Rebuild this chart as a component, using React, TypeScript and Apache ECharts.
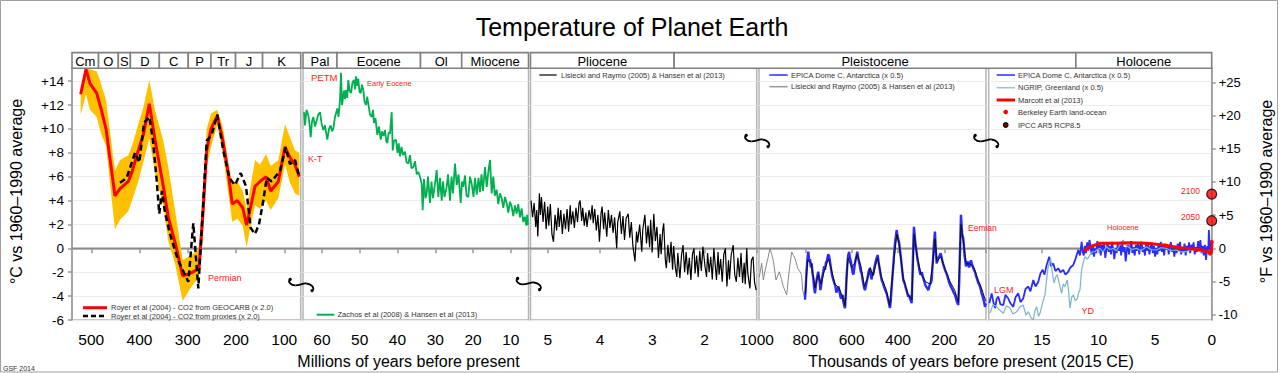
import React, { useEffect, useRef } from "react";
import * as echarts from "echarts";

const FONT = "'Liberation Sans', Arial, Helvetica, sans-serif";

// ---------- tick values ----------
const ticksC = [-6, -4, -2, 0, 2, 4, 6, 8, 10, 12, 14];
const ticksF = [-10, -5, 0, 5, 10, 15, 20, 25];
const ticksPaleo = [100, 200, 300, 400, 500];
const ticksCeno = [10, 20, 30, 40, 50, 60];
const ticksPlio = [1, 2, 3, 4, 5];
const ticksPleisto = [20, 200, 400, 600, 800];
const ticksHolo = [0, 5, 10, 15];

// ---------- geologic periods: [label, axisFrom, from, axisTo, to] ----------
const periods: [string, number, number, number, number][] = [
  ["Cm", 0, 540, 0, 485], ["O", 0, 485, 0, 444], ["S", 0, 444, 0, 419],
  ["D", 0, 419, 0, 359], ["C", 0, 359, 0, 299], ["P", 0, 299, 0, 252],
  ["Tr", 0, 252, 0, 201], ["J", 0, 201, 0, 145], ["K", 0, 145, 0, 66],
  ["Pal", 1, 65, 1, 56], ["Eocene", 1, 56, 1, 33.9], ["Ol", 1, 33.9, 1, 23],
  ["Miocene", 1, 23, 1, 5.33], ["Pliocene", 2, 5.33, 2, 2.58],
  ["Pleistocene", 2, 2.58, 4, 12], ["Holocene", 4, 12, 4, 0],
];

// ---------- Panel 1: Royer et al (2004), [Ma, °C] ----------
const royerGeocarb: [number, number][] = [
  [522, 12.9], [511, 15.0], [502.7, 13.8], [488.8, 13.0], [479.9, 11.7], [469.5, 10.0],
  [451, 4.4], [440.5, 5.0], [423.3, 5.6], [415.6, 6.4], [402.6, 8.2], [392.2, 9.5],
  [379.8, 12.1], [368, 9.1], [350.8, 5.2], [340.4, 2.6], [326.5, 0.5], [310.6, -2.3],
  [295.5, -2.1], [281, -1.8], [276.8, -1.7], [268.5, 3.0], [260.8, 8.2], [251.9, 10.0],
  [238.9, 11.1], [227.7, 9.1], [216.1, 6.3], [207.8, 3.7], [197.4, 4.0], [186.2, 3.4],
  [178, 1.95], [169.6, 3.5], [160.7, 5.2], [150.4, 5.6], [137.9, 6.0], [128.2, 4.8],
  [112.4, 5.6], [98.5, 8.5], [88.2, 7.6], [77.8, 7.0], [68.9, 6.0],
];
const royerProxies: [number, number][] = [
  [440.5, 5.5], [426.6, 5.9], [409.4, 8.0], [400.5, 7.2], [390.8, 10.5], [379.8, 11.0],
  [372.1, 9.0], [364.5, 5.7], [359.1, 2.9], [353.5, 4.8], [347.3, 3.0], [336.9, 1.2],
  [320.3, -1.0], [298.9, -2.8], [288.6, 2.1], [278.2, -3.35], [270.6, 2.0], [260.8, 9.0],
  [250.5, 9.5], [238.9, 11.2], [226.5, 8.2], [214, 5.9], [202.2, 5.3], [190.4, 6.3],
  [179.4, 5.2], [169.6, 1.7], [160.7, 1.2], [152.4, 2.0], [143.5, 4.0], [136.4, 5.9],
  [126.1, 5.6], [108.9, 6.5], [97.1, 8.45], [88.2, 7.05], [77.8, 7.4], [68.9, 6.0],
];
// [Ma, lower, upper]
const royerBand: [number, number, number][] = [
  [522, 11.2, 13.5], [511, 12.9, 15.1], [502.7, 11.6, 15.0], [488.8, 11.0, 14.8],
  [479.9, 9.6, 13.8], [469.5, 8.6, 12.4], [451, 1.6, 6.5], [440.5, 2.4, 7.4],
  [423.3, 3.1, 7.8], [415.6, 4.0, 8.6], [402.6, 5.6, 10.4], [392.2, 7.2, 11.8],
  [379.8, 9.2, 14.1], [368, 6.3, 11.6], [350.8, 3.6, 9.0], [340.4, 0.6, 6.8],
  [326.5, -1.3, 3.2], [310.6, -4.4, -1.0], [295.5, -3.4, -0.6], [281, -2.6, -0.2],
  [276.8, -2.3, 0.0], [268.5, 1.0, 5.0], [260.8, 6.8, 10.0], [251.9, 8.5, 11.3],
  [238.9, 10.3, 11.6], [227.7, 8.0, 10.2], [216.1, 4.6, 7.2], [207.8, 2.2, 5.5],
  [197.4, 2.5, 5.6], [186.2, 1.9, 4.8], [178, 0.1, 3.3], [169.6, 1.9, 5.3],
  [160.7, 3.6, 7.4], [150.4, 3.3, 7.0], [137.9, 4.0, 7.9], [128.2, 3.2, 6.9],
  [112.4, 4.2, 7.4], [98.5, 7.0, 10.4], [88.2, 5.5, 9.3], [77.8, 4.6, 8.2], [68.9, 4.4, 8.0],
];

// ---------- Panel 2: Zachos et al (2008) & Hansen et al (2013), [Ma, °C] ----------
const zachos: [number, number][] = [
  [64.74, 11.4], [64.47, 10.3], [64.07, 11.6], [63.6, 11.15], [63.28, 10.4], [62.96, 9.3],
  [62.62, 10.6], [62.27, 11.0], [61.82, 10.2], [61.37, 10.7], [60.95, 11.2], [60.5, 11.4],
  [60.05, 10.4], [59.63, 9.9], [59.18, 10.3], [58.57, 9.1], [58.12, 10.0], [57.68, 10.3],
  [57.33, 9.8], [56.98, 10.0], [56.53, 11.0], [55.92, 11.7], [55.61, 11.0], [55.21, 12.4],
  [54.94, 14.7], [54.68, 12.0], [54.49, 12.4], [54.15, 13.2], [53.89, 12.5], [53.62, 13.25],
  [53.3, 12.6], [53.01, 14.1], [52.69, 13.2], [52.3, 13.0], [51.9, 13.9], [51.5, 14.1],
  [51.24, 13.3], [50.98, 14.4], [50.66, 13.6], [50.37, 14.2], [50.05, 13.1], [49.73, 13.0],
  [49.39, 13.7], [49.04, 13.25], [48.73, 12.3], [48.33, 12.0], [48.01, 12.7], [47.72, 12.1],
  [47.27, 11.2], [46.82, 11.0], [46.48, 11.6], [46.21, 10.5], [45.82, 10.9], [45.34, 9.5],
  [44.89, 10.2], [44.44, 9.1], [44.1, 9.8], [43.7, 9.4], [43.3, 9.9], [42.98, 9.0],
  [42.69, 8.8], [42.32, 9.7], [41.98, 9.6], [41.53, 11.4], [41.26, 8.2], [40.92, 9.0],
  [40.39, 9.1], [39.99, 8.0], [39.67, 8.8], [39.33, 7.7], [38.94, 8.5], [38.54, 7.8],
  [38.01, 8.1], [37.61, 7.2], [37.13, 7.1], [36.69, 7.8], [36.29, 6.7], [35.81, 6.8],
  [35.36, 7.3], [34.91, 6.2], [34.49, 6.4], [34.04, 6.0], [33.59, 5.4], [33.33, 3.2],
  [32.99, 5.8], [32.59, 4.2], [32.27, 4.6], [31.93, 6.0], [31.4, 3.8], [31.0, 5.6],
  [30.6, 4.2], [30.07, 5.4], [29.62, 6.55], [29.2, 4.3], [28.75, 5.9], [28.3, 4.0],
  [27.95, 5.6], [27.56, 4.3], [26.97, 5.15], [26.63, 6.2], [26.1, 4.0], [25.7, 6.0],
  [25.31, 4.6], [24.78, 7.1], [24.33, 5.3], [23.85, 6.2], [23.27, 3.8], [22.92, 5.6],
  [22.58, 5.15], [22.13, 6.1], [21.73, 4.4], [21.26, 4.3], [20.81, 6.0], [20.36, 5.4],
  [19.88, 4.3], [19.49, 5.9], [19.04, 4.5], [18.56, 5.9], [18.16, 4.7], [17.77, 6.2],
  [17.37, 4.8], [16.84, 6.8], [16.39, 5.15], [15.92, 6.5], [15.52, 7.4], [15.07, 4.6],
  [14.65, 6.0], [14.25, 4.4], [13.75, 4.9], [13.33, 3.7], [12.87, 4.6], [12.43, 4.2],
  [12.0, 3.4], [11.55, 4.3], [11.1, 3.8], [10.68, 3.0], [10.23, 3.9], [9.78, 3.5],
  [9.36, 2.7], [8.91, 3.6], [8.46, 2.9], [8.04, 3.7], [7.59, 2.6], [7.14, 3.35],
  [6.72, 2.2], [6.27, 2.65], [5.92, 1.9], [5.66, 2.8], [5.48, 1.95],
];

// ---------- Panel 3: Lisiecki and Raymo (2005), [Ma, °C] ----------
const lisieckiPlio: [number, number][] = [
  [5.32, 4.0], [5.29, 2.6], [5.26, 3.8], [5.23, 1.8], [5.21, 3.2], [5.19, 1.0], [5.16, 4.6],
  [5.14, 2.8], [5.12, 4.3], [5.09, 2.2], [5.06, 3.9], [5.03, 1.6], [5.0, 3.5], [4.98, 1.9],
  [4.95, 3.7], [4.92, 1.2], [4.89, 0.55], [4.86, 2.8], [4.83, 1.5], [4.8, 3.4], [4.78, 1.8],
  [4.75, 3.2], [4.72, 1.2], [4.69, 2.9], [4.66, 1.6], [4.63, 3.3], [4.6, 1.4], [4.57, 3.6],
  [4.55, 2.0], [4.52, 3.1], [4.49, 1.7], [4.46, 3.4], [4.43, 2.2], [4.4, 3.8], [4.38, 4.0],
  [4.35, 2.3], [4.33, 3.4], [4.3, 1.9], [4.27, 3.0], [4.25, 1.8], [4.21, 3.2], [4.18, 2.4],
  [4.15, 3.6], [4.13, 2.1], [4.1, 3.3], [4.07, 1.5], [4.04, 2.8], [4.01, 0.55], [3.98, 2.9],
  [3.96, 3.5], [3.93, 1.6], [3.91, 3.0], [3.87, 0.97], [3.84, 3.2], [3.81, 1.7], [3.78, 2.8],
  [3.75, 1.3], [3.72, 2.6], [3.68, 0.0], [3.66, 2.2], [3.62, 3.1], [3.59, 1.2], [3.56, 2.7],
  [3.53, 0.7], [3.5, 2.5], [3.46, 2.9], [3.43, 0.9], [3.4, 2.2], [3.37, 0.2], [3.33, -1.1],
  [3.3, 1.4], [3.28, 0.5], [3.24, 2.0], [3.2, -0.28], [3.18, 1.6], [3.14, 2.8], [3.11, 0.4],
  [3.08, 1.9], [3.05, 0.1], [3.03, 2.4], [3.0, -0.28], [2.97, 2.9], [2.94, 0.6], [2.91, 1.8],
  [2.88, -0.8], [2.85, 1.2], [2.83, -0.5], [2.8, 1.5], [2.78, 2.1], [2.75, -0.9], [2.73, -1.67],
  [2.7, 0.3], [2.67, -1.2], [2.64, 0.55], [2.61, -1.8], [2.59, 0.2], [2.56, -1.5], [2.53, -2.4],
  [2.51, -0.4], [2.47, -2.5], [2.44, -0.6], [2.41, 0.28], [2.38, -2.0], [2.35, -0.3], [2.32, -2.2],
  [2.29, -0.8], [2.26, -2.65], [2.23, -0.5], [2.2, 0.0], [2.18, -2.1], [2.15, -0.6], [2.12, -2.4],
  [2.09, -0.2], [2.06, -1.9], [2.03, 0.14], [1.99, -1.5], [1.96, -2.4], [1.94, -0.4], [1.91, -2.0],
  [1.88, -0.7], [1.85, -2.6], [1.82, 0.0], [1.79, -1.6], [1.77, -2.65], [1.74, -0.3], [1.72, -2.2],
  [1.69, -0.9], [1.66, -2.8], [1.63, -0.5], [1.6, 0.0], [1.57, -3.2], [1.54, -1.0], [1.52, -2.6],
  [1.49, -0.6], [1.45, 0.28], [1.42, -2.2], [1.39, -2.8], [1.36, -0.8], [1.33, -2.4], [1.3, -0.4],
  [1.27, -2.9], [1.24, -1.2], [1.22, -3.0], [1.19, 0.0], [1.17, -2.1], [1.13, -3.35], [1.1, -1.0],
  [1.07, -0.7], [1.04, -2.9], [1.01, -3.5],
];

// ---------- Panel 4: ka, °C ----------
const lisieckiEarly: [number, number][] = [
  [998.7, -2.4], [988.3, -1.25], [981.4, -2.65], [969.8, -1.5], [961.1, -0.8], [952.5, 0.0],
  [945.2, -0.5], [938.3, -1.0], [926.6, -2.65], [912.3, -1.96], [902.8, -2.6], [895.1, -3.2],
  [880.4, -3.9], [870.5, -2.0], [858.8, -0.3], [851.1, -0.6], [844.6, -0.84], [832.9, -1.67],
  [823, -1.96], [816.5, -2.2], [811.3, -3.5], [801.4, -4.3],
];
const epicaLong: [number, number][] = [
  [801.4, -4.3], [798, -3.2], [795.1, -2.0], [791, -0.9], [787.1, -0.28], [783, -1.1],
  [779.8, -0.9], [776, -1.6], [772.5, -1.26], [769, -2.1], [765.6, -2.5], [762, -3.3],
  [758.3, -3.77], [754, -3.0], [750.9, -2.6], [747, -2.2], [744, -1.96], [741, -2.5],
  [738, -2.8], [735, -3.5], [732.3, -3.2], [728, -2.5], [725, -2.2], [722.4, -1.96],
  [719, -1.5], [715.1, -1.8], [711, -1.2], [706.5, -1.0], [701, -0.5], [696.6, -0.7],
  [692, -1.3], [688.3, -1.8], [684, -2.3], [679.3, -2.65], [675, -2.9], [671.1, -3.1],
  [666, -3.7], [662, -3.5], [657, -3.2], [652.5, -3.6], [648, -4.1], [643, -4.2],
  [639, -3.9], [636.2, -4.4], [632, -4.8], [628.9, -5.0], [625, -3.8], [622.4, -2.5],
  [618, -1.2], [614.6, -0.56], [611, -0.3], [607.3, -0.8], [603, -1.1], [599.9, -1.5],
  [596, -2.0], [592.2, -2.2], [588, -1.6], [583.5, -1.0], [579, -0.6], [575.8, -0.28],
  [571, -0.9], [566.3, -1.3], [561, -1.9], [556.8, -2.1], [553, -2.6], [549.9, -2.9],
  [546, -3.3], [542.6, -3.5], [537, -3.0], [531.8, -2.5], [526, -1.9], [521, -1.67],
  [517, -2.3], [513.7, -2.6], [510, -2.0], [506.8, -2.2], [502, -1.6], [497.3, -1.2],
  [492, -0.8], [487.8, -0.56], [484, -1.1], [480, -1.6], [475, -2.2], [470.5, -2.65],
  [465, -2.9], [460.6, -3.2], [455, -3.5], [449, -3.77], [445, -4.1], [441.2, -4.4],
  [438, -4.7], [434.7, -5.0], [431, -4.4], [428.2, -3.5], [424, -2.4], [420.5, -1.5],
  [417, -0.5], [413.1, 0.4], [409, 1.0], [405.8, 1.53], [403, 1.2], [400.2, 0.9],
  [397, 0.6], [394.5, 0.42], [391, -0.2], [387.2, -0.8], [382, -1.8], [377.3, -2.65],
  [372, -2.9], [367.8, -3.2], [362, -3.6], [355.7, -4.05], [352, -3.9], [348.4, -4.2],
  [344, -4.4], [341, -4.6], [338.5, -3.0], [336.3, -1.5], [333.5, 0.5], [331.1, 1.8],
  [328, 1.1], [324.6, 0.4], [322, 0.0], [319, -0.4], [316, -0.9], [312.5, -1.26],
  [308, -1.8], [303, -2.2], [297, -2.0], [290.9, -2.5], [286, -2.8], [281.4, -3.1],
  [275, -3.3], [269.3, -3.5], [265, -3.2], [262, -3.0], [258, -2.9], [254.6, -2.65],
  [252, -1.8], [249, -1.0], [245, 0.3], [240.4, 1.4], [237, 0.0], [233, -1.26],
  [229, -1.0], [225.3, -0.8], [220, -0.6], [215.8, -0.42], [211, -0.8], [206.7, -1.2],
  [202, -1.5], [197.2, -1.8], [193, -2.0], [188.5, -2.2], [183, -2.6], [178.6, -2.9],
  [174, -3.1], [169.1, -3.3], [164, -3.5], [158.3, -3.77], [154, -3.9], [149.7, -4.2],
  [145, -4.5], [139.7, -4.75], [136, -3.0], [133.3, -1.0], [130.5, 1.0], [128.1, 2.8],
  [125.5, 2.0], [122.9, 1.2], [120.5, 1.0], [118.2, 0.84], [115, 0.1], [112.6, -0.6],
  [109, -1.1], [106.5, -1.5], [102, -1.3], [97.9, -1.1], [93, -1.6], [89.3, -1.4],
  [85, -1.0], [80.6, -1.3], [76, -1.6], [72, -1.8], [67, -2.0], [63.4, -2.3],
  [58, -2.6], [53.5, -2.9], [50, -3.0], [46.2, -3.2], [42, -3.5], [38.8, -3.77],
  [35, -4.0], [31.1, -4.3], [28, -4.5], [24.6, -4.9], [22, -4.7], [20.3, -4.6],
];
const lisieckiLate: [number, number][] = [
  [800, -3.8], [790, -1.0], [775, -1.2], [758, -3.3], [744, -2.2], [732, -3.0], [720, -2.0],
  [700, -0.9], [690, -1.6], [672, -3.0], [655, -3.3], [640, -4.0], [628, -4.8], [616, -0.8],
  [600, -1.6], [585, -1.2], [576, -0.5], [560, -1.5], [545, -3.2], [530, -2.4], [520, -1.6],
  [508, -2.3], [488, -0.8], [470, -2.5], [450, -3.5], [436, -4.8], [420, -1.5], [405, 1.2],
  [395, 0.3], [378, -2.4], [356, -3.9], [340, -4.3], [330, 1.2], [318, -0.6], [300, -2.2],
  [280, -2.8], [262, -3.0], [250, -1.3], [240, 0.8], [232, -1.1], [215, -0.7], [195, -1.8],
  [175, -2.8], [155, -3.5], [140, -4.5], [128, 2.0], [118, 0.6], [105, -1.3], [90, -1.3],
  [72, -1.6], [55, -2.6], [40, -3.3], [25, -4.2], [20, -4.4],
];

// ---------- Panel 5: ka, °C ----------
const epicaShort: [number, number][] = [
  [19.65, -4.6], [19.44, -3.77], [19.29, -4.5], [19.14, -5.0], [18.99, -4.2], [18.85, -4.05],
  [18.66, -4.7], [18.41, -4.75], [18.22, -3.9], [17.97, -4.2], [17.78, -4.6], [17.53, -4.9],
  [17.33, -4.1], [17.09, -3.77], [16.89, -4.5], [16.65, -4.2], [16.45, -3.4], [16.2, -3.2],
  [16.01, -3.6], [15.76, -2.65], [15.56, -3.2], [15.32, -2.8], [15.13, -2.1], [14.93, -1.8],
  [14.77, -2.2], [14.58, -1.4], [14.35, -0.7], [14.2, -1.5], [14.0, -1.26], [13.8, -1.9],
  [13.56, -1.67], [13.36, -2.0], [13.12, -1.8], [12.92, -2.2], [12.67, -1.96], [12.48, -1.6],
  [12.23, -1.4], [12.04, -0.9], [11.79, -0.14], [11.64, -0.6], [11.49, 0.55], [11.4, -0.3],
  [11.3, -0.6], [11.2, 0.2], [11.1, -0.4], [11.0, 0.5], [10.9, -0.2], [10.8, 0.7], [10.7, 0.1],
  [10.6, -0.5], [10.5, 0.3], [10.4, -0.7], [10.3, 0.0], [10.2, -0.4], [10.1, 0.6], [10.0, -0.1],
  [9.9, 0.5], [9.8, -0.6], [9.7, 0.3], [9.6, -0.2], [9.5, 0.4], [9.4, -0.8], [9.3, -0.1],
  [9.2, 0.5], [9.1, -0.3], [9.0, 0.2], [8.9, -0.5], [8.8, 0.55], [8.7, -0.1], [8.6, -0.9],
  [8.5, 0.0], [8.4, -0.4], [8.3, 0.4], [8.2, -0.2], [8.1, 0.3], [8.0, -0.6], [7.9, 0.42],
  [7.8, -0.3], [7.7, 0.1], [7.6, -1.1], [7.5, -0.2], [7.4, 0.3], [7.3, -0.5], [7.2, 0.2],
  [7.1, 0.6], [7.0, -0.4], [6.9, 0.1], [6.8, -0.6], [6.7, 0.3], [6.6, -0.2], [6.5, 0.5],
  [6.4, -0.5], [6.3, 0.2], [6.2, 0.55], [6.1, -0.3], [6.0, 0.1], [5.9, -0.6], [5.8, 0.4],
  [5.7, -0.2], [5.6, 0.3], [5.5, -0.5], [5.4, 0.1], [5.3, 0.5], [5.2, -0.4], [5.1, 0.2],
  [5.0, -0.7], [4.9, 0.0], [4.8, -0.5], [4.7, 0.3], [4.6, -0.2], [4.5, 0.55], [4.4, -0.3],
  [4.3, 0.2], [4.2, -0.6], [4.1, 0.4], [4.0, -0.1], [3.9, 0.3], [3.8, -0.5], [3.7, 0.2],
  [3.6, 0.5], [3.5, -0.3], [3.4, 0.1], [3.3, -0.7], [3.2, 0.2], [3.1, -0.4], [3.0, 0.4],
  [2.9, -0.2], [2.8, 0.55], [2.7, -0.5], [2.6, 0.1], [2.5, -0.3], [2.4, 0.4], [2.3, -0.6],
  [2.2, 0.2], [2.1, -0.2], [2.0, 0.5], [1.9, -0.4], [1.8, 0.3], [1.7, -0.1], [1.6, 0.5],
  [1.5, -0.5], [1.4, 0.1], [1.3, -0.3], [1.2, 0.6], [1.1, -0.2], [1.0, 0.7], [0.9, -0.4],
  [0.8, 0.2], [0.7, -0.6], [0.6, 0.3], [0.5, -0.98], [0.4, 0.2], [0.3, -0.3], [0.25, 1.53],
  [0.18, 0.0], [0.13, 0.4],
];
const ngrip: [number, number][] = [
  [19.59, -5.44], [19.32, -4.7], [18.99, -4.9], [18.7, -5.2], [18.41, -5.44], [18.13, -4.8],
  [17.82, -5.0], [17.56, -5.5], [17.23, -5.3], [16.94, -4.9], [16.65, -4.75], [16.41, -5.6],
  [16.2, -5.3], [15.97, -5.8], [15.76, -6.0], [15.61, -5.2], [15.46, -4.9], [15.3, -5.7],
  [15.17, -5.44], [14.95, -4.6], [14.73, -3.9], [14.58, -2.6], [14.44, -1.5], [14.23, -0.84],
  [14.08, -2.0], [13.93, -2.9], [13.78, -2.4], [13.64, -2.2], [13.45, -3.0], [13.26, -3.77],
  [13.12, -3.0], [12.97, -3.2], [12.76, -2.65], [12.64, -3.6], [12.52, -5.0], [12.37, -4.1],
  [12.23, -3.9], [12.05, -4.4], [11.87, -4.2], [11.72, -3.6], [11.64, -3.5], [11.49, -1.8],
  [11.35, -1.2], [11.2, -0.7], [10.98, -0.9], [10.76, -0.56], [10.54, -0.3], [10.32, -0.28],
  [10.1, -0.1], [9.88, 0.0], [9.61, -0.3], [9.29, 0.13], [9.0, -0.1], [8.7, 0.0],
  [8.42, -0.2], [8.11, 0.28], [7.82, 0.7], [7.63, 0.3], [7.38, 0.13], [7.05, -0.1],
  [6.64, 0.0], [6.26, -0.2], [5.76, 0.13], [5.38, -0.1], [4.88, -0.14], [4.5, 0.05],
  [4.0, 0.0], [3.62, -0.2], [3.13, -0.14], [2.75, -0.3], [2.24, -0.28], [1.86, -0.1],
  [1.36, -0.14], [0.98, -0.3], [0.48, -0.28], [0.19, -0.2],
];
const marcott: [number, number][] = [
  [11.29, -0.22], [10.76, 0.13], [9.88, 0.42], [8.7, 0.42], [7.23, 0.47], [5.76, 0.42],
  [4.29, 0.28], [2.82, 0.05], [1.64, -0.06], [0.91, -0.14], [0.47, -0.28], [0.1, -0.3],
];
const berkeley: [number, number][] = [
  [0.16, -0.45], [0.14, -0.3], [0.12, -0.4], [0.1, -0.2], [0.08, -0.35], [0.06, -0.1],
  [0.05, 0.0], [0.04, -0.2], [0.03, 0.2], [0.02, 0.35], [0.01, 0.5], [0.0, 0.55],
];
const ipcc: [number, number][] = [[0, 2.31], [0, 4.54]];

export default function App() {
  const ref = useRef<HTMLDivElement>(null);

  useEffect(() => {
    if (!ref.current) return;
    const chart = echarts.init(ref.current, undefined, { renderer: "svg" });

    const grids = [
      { left: 72, width: 228.7 },
      { left: 303, width: 225.5 },
      { left: 530.5, width: 226.2 },
      { left: 759, width: 227 },
      { left: 988.7, width: 223 },
    ].map((g) => ({
      ...g,
      top: 68,
      height: 252,
      show: true,
      borderColor: "#b4b4b4",
      borderWidth: 1.5,
      backgroundColor: "transparent",
    }));

    const xAxis = (gridIndex: number, min: number, max: number, ticks: number[], fmt?: (v: number) => string) => ({
      type: "value",
      gridIndex,
      min,
      max,
      inverse: true,
      position: "bottom",
      axisLine: { show: true, lineStyle: { color: "#999", width: 1.5 } },
      axisTick: { show: true, length: 5, customValues: ticks, lineStyle: { color: "#999", width: 1.5 } },
      axisLabel: {
        show: true,
        customValues: ticks,
        color: "#000",
        fontSize: 15.5,
        fontFamily: FONT,
        margin: 11,
        formatter: fmt || ((v: number) => String(v)),
      },
      splitLine: { show: false },
    });

    const yGrid = (gridIndex: number) => ({
      type: "value",
      gridIndex,
      min: -6,
      max: 15.1,
      axisLine: { show: false },
      axisTick: { show: false, customValues: ticksC },
      axisLabel: { show: false, customValues: ticksC },
      splitLine: { show: true, lineStyle: { color: "#ececec", width: 1 } },
    });

    const leftAxis = {
      ...yGrid(0),
      axisLine: { show: true, lineStyle: { color: "#999", width: 1.5 } },
      axisTick: { show: true, length: 4, customValues: ticksC, lineStyle: { color: "#999", width: 1.5 } },
      axisLabel: {
        show: true,
        customValues: ticksC,
        color: "#000",
        fontSize: 13.5,
        fontFamily: FONT,
        margin: 8,
        formatter: (v: number) => (v > 0 ? "+" + v : String(v)),
      },
    };
    const rightAxis = {
      type: "value",
      gridIndex: 4,
      position: "right",
      min: -6 * 1.8,
      max: 15.1 * 1.8,
      axisLine: { show: true, lineStyle: { color: "#999", width: 1.5 } },
      axisTick: { show: true, length: 4, customValues: ticksF, lineStyle: { color: "#999", width: 1.5 } },
      axisLabel: {
        show: true,
        customValues: ticksF,
        color: "#000",
        fontSize: 13,
        fontFamily: FONT,
        margin: 7,
        formatter: (v: number) => (v > 0 ? "+" + v : String(v)),
      },
      splitLine: { show: false },
    };

    const line = (xi: number, data: any, color: string, width: number, extra: any = {}) => ({
      type: "line",
      xAxisIndex: xi,
      yAxisIndex: xi,
      data,
      symbol: "none",
      silent: true,
      lineStyle: { color, width, ...(extra.lineStyle || {}) },
    });

    const option: any = {
      animation: false,
      backgroundColor: "#fff",
      textStyle: { fontFamily: FONT },
      grid: grids,
      xAxis: [
        xAxis(0, 66, 540, ticksPaleo),
        xAxis(1, 5.33, 65, ticksCeno),
        xAxis(2, 1, 5.33, ticksPlio, (v: number) => (v === 1 ? "1000" : String(v))),
        xAxis(3, 20, 1000, ticksPleisto),
        xAxis(4, 0, 19.7, ticksHolo),
      ],
      yAxis: [leftAxis, yGrid(1), yGrid(2), yGrid(3), yGrid(4), rightAxis],
      series: [
        {
          type: "custom",
          xAxisIndex: 0,
          yAxisIndex: 0,
          silent: true,
          clip: true,
          data: royerBand,
          encode: { x: 0, y: [1, 2] },
          renderItem: (params: any, api: any) => {
            if (params.dataIndex !== 0) return null;
            const upper = royerBand.map((d) => api.coord([d[0], d[2]]));
            const lower = royerBand.slice().reverse().map((d) => api.coord([d[0], d[1]]));
            return {
              type: "polygon",
              shape: { points: upper.concat(lower) },
              style: { fill: "#ffc000", stroke: "none" },
            };
          },
        },
        line(0, royerGeocarb, "#ff0000", 3),
        line(0, royerProxies, "#000000", 2.5, { lineStyle: { type: [6, 3.5] } }),
        line(1, zachos, "#00b050", 1.8),
        line(2, lisieckiPlio, "#000000", 1.2),
        line(3, lisieckiEarly, "#888888", 1),
        line(3, epicaLong, "#2b2bff", 2.4),
        line(3, lisieckiLate, "#111111", 1),
        line(4, epicaShort, "#2b2bff", 1.8),
        line(4, ngrip, "#7fb2c6", 1.2),
        line(4, marcott, "#ff0000", 3),
        {
          type: "scatter",
          xAxisIndex: 4,
          yAxisIndex: 4,
          data: berkeley,
          symbolSize: 4,
          silent: true,
          clip: false,
          itemStyle: { color: "#ff0000" },
        },
        {
          type: "scatter",
          xAxisIndex: 4,
          yAxisIndex: 4,
          data: ipcc,
          symbolSize: 10,
          silent: true,
          clip: false,
          z: 5,
          itemStyle: { color: "#ff0000", borderColor: "#000", borderWidth: 1.2 },
        },
      ],
    };

    chart.setOption(option);

    const gx = (i: number, v: number) => chart.convertToPixel({ xAxisIndex: i } as any, v) as number;
    const zeroY = chart.convertToPixel({ yAxisIndex: 0 } as any, 0) as number;
    const leftX = gx(0, 540);
    const rightX = gx(4, 0);

    const txt = (x: number, y: number, text: string, size: number, fill: string, align = "left", extra: any = {}) => ({
      type: "text",
      x,
      y,
      z: 20,
      silent: true,
      ...extra,
      style: {
        text,
        fill,
        fontSize: size,
        fontFamily: FONT,
        textAlign: align,
        align,
        textVerticalAlign: "middle",
        verticalAlign: "middle",
      },
    });
    const seg = (x1: number, y1: number, x2: number, y2: number, stroke: string, w: number, dash?: number[]) => ({
      type: "line",
      z: 20,
      silent: true,
      shape: { x1, y1, x2, y2 },
      style: { stroke, lineWidth: w, lineDash: dash },
    });
    const curve = (x1: number, y1: number, c1x: number, c1y: number, c2x: number, c2y: number, x2: number, y2: number) => ({
      type: "bezierCurve",
      z: 25,
      silent: true,
      shape: { x1, y1, x2, y2, cpx1: c1x, cpy1: c1y, cpx2: c2x, cpy2: c2y },
      style: { stroke: "#000", lineWidth: 1.8, fill: "none" },
    });

    const els: any[] = [];
    // outer frame
    els.push({ type: "rect", z: 0, silent: true, shape: { x: 0.5, y: 0.5, width: 1277, height: 371.5 }, style: { fill: "none", stroke: "#a0a0a0", lineWidth: 1 } });
    // title
    els.push(txt(632, 27, "Temperature of Planet Earth", 25, "#000", "center"));
    // zero line
    els.push({ ...seg(leftX, zeroY, rightX, zeroY, "#8c8c8c", 1.5), z: 1 });

    // period bar
    periods.forEach(([name, a0, v0, a1, v1]) => {
      const x0 = gx(a0, v0);
      const x1 = gx(a1, v1);
      els.push({
        type: "rect",
        z: 15,
        silent: true,
        shape: { x: x0, y: 52.6, width: x1 - x0, height: 15.6 },
        style: { fill: "#fff", stroke: "#808080", lineWidth: 1.6 },
      });
      els.push(txt((x0 + x1) / 2, 61, name, 13, "#000", "center"));
    });

    // axis titles
    els.push(txt(408.5, 361, "Millions of years before present", 16, "#000", "center"));
    els.push(txt(971, 361, "Thousands of years before present (2015 CE)", 16, "#000", "center"));
    els.push(txt(16.5, 191.5, "°C vs 1960–1990 average", 16, "#000", "center", { rotation: Math.PI / 2 }));
    els.push(txt(1266, 191.5, "°F vs 1960–1990 average", 16, "#000", "center", { rotation: Math.PI / 2 }));
    els.push(txt(3, 368, "GSF 2014", 7, "#333"));

    // legends
    const lg = "#333";
    els.push(seg(83, 307.7, 107, 307.7, "#ff0000", 3));
    els.push(txt(111, 307.7, "Royer et al (2004) - CO2 from GEOCARB (x 2.0)", 7.5, lg));
    els.push(seg(83, 316, 107, 316, "#000", 2.5, [5, 3]));
    els.push(txt(111, 316, "Royer et al (2004) - CO2 from proxies (x 2.0)", 7.5, lg));
    els.push(seg(316.7, 314.7, 334.3, 314.7, "#00b050", 2));
    els.push(txt(337.5, 314.7, "Zachos et al (2008) & Hansen et al (2013)", 7.5, lg));
    els.push(seg(539.3, 75, 556.7, 75, "#333", 1.5));
    els.push(txt(561, 75, "Lisiecki and Raymo (2005) & Hansen et al (2013)", 7.5, lg));
    els.push(seg(769.3, 75, 787.7, 75, "#2b2bff", 1.5));
    els.push(txt(791, 75, "EPICA Dome C, Antarctica (x 0.5)", 7.5, lg));
    els.push(seg(769.3, 86.7, 787.7, 86.7, "#999", 1.5));
    els.push(txt(791, 86.7, "Lisiecki and Raymo (2005) & Hansen et al (2013)", 7.5, lg));
    els.push(seg(996.7, 75, 1015, 75, "#2b2bff", 1.5));
    els.push(txt(1018, 75, "EPICA Dome C, Antarctica (x 0.5)", 7.5, lg));
    els.push(seg(996.7, 87.7, 1015, 87.7, "#9cc3d5", 1.5));
    els.push(txt(1018, 87.7, "NGRIP, Greenland (x 0.5)", 7.5, lg));
    els.push(seg(996.7, 100, 1015, 100, "#ff0000", 3));
    els.push(txt(1018, 100, "Marcott et al (2013)", 7.5, lg));
    els.push({ type: "circle", z: 20, silent: true, shape: { cx: 1005.7, cy: 112, r: 2.3 }, style: { fill: "#ff0000" } });
    els.push(txt(1018, 112, "Berkeley Earth land-ocean", 7.5, lg));
    els.push({ type: "circle", z: 20, silent: true, shape: { cx: 1005.7, cy: 125, r: 2.3 }, style: { fill: "#800000", stroke: "#000", lineWidth: 1.2 } });
    els.push(txt(1018, 125, "IPCC AR5 RCP8.5", 7.5, lg));

    // annotations
    const red = "#ff2020";
    els.push(txt(311, 77.3, "PETM", 9.5, red));
    els.push(txt(367, 83.3, "Early Eocene", 7.5, red));
    els.push(txt(308, 159, "K-T", 9, red));
    els.push(txt(208, 278, "Permian", 9, red));
    els.push(txt(968, 227.7, "Eemian", 8.5, red));
    els.push(txt(994, 290, "LGM", 9, red));
    els.push(txt(1081.5, 311, "YD", 9, red));
    els.push(txt(1107, 227.3, "Holocene", 7.5, red));
    els.push(txt(1181, 190.7, "2100", 8.5, red));
    els.push(txt(1181, 216.7, "2050", 8.5, red));

    // scale-break squiggles
    [
      [302, 285],
      [529.5, 284],
      [758, 141],
      [987, 141],
    ].forEach(([cx, cy]) => {
      els.push(curve(cx - 12, cy - 5.7, cx - 14.5, cy - 3, cx - 11, cy + 0.5, cx - 6.5, cy + 0.3));
      els.push(curve(cx - 6.5, cy + 0.3, cx - 2, cy + 0.2, cx + 1, cy - 2, cx + 4.5, cy - 1.5));
      els.push(curve(cx + 4.5, cy - 1.5, cx + 9, cy - 1.2, cx + 13.5, cy + 3, cx + 10.3, cy + 5.7));
      els.push({ type: "circle", z: 25, silent: true, shape: { cx: cx - 11.8, cy: cy - 5.6, r: 1.6 }, style: { fill: "#000" } });
      els.push({ type: "circle", z: 25, silent: true, shape: { cx: cx + 10, cy: cy + 5.6, r: 1.6 }, style: { fill: "#000" } });
    });

    chart.setOption({ graphic: { elements: els } });

    return () => chart.dispose();
  }, []);

  return (
    <div
      ref={ref}
      style={{ position: "absolute", left: 0, top: 0, width: 1280, height: 373, background: "#fff" }}
    />
  );
}
